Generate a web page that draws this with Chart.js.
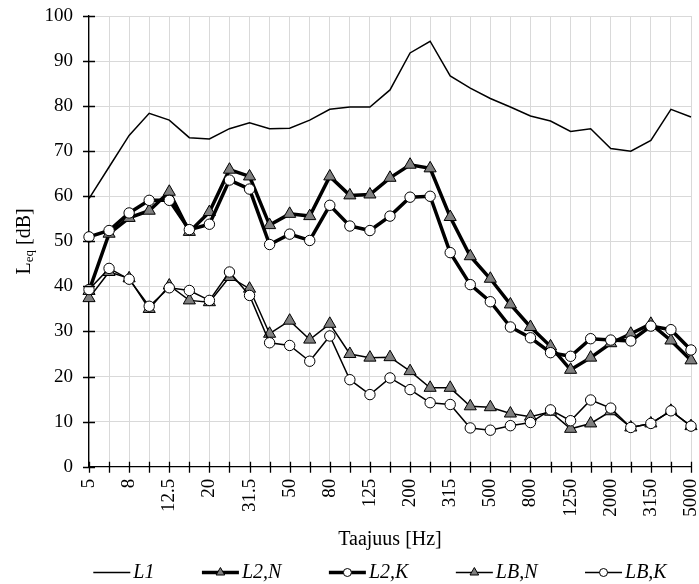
<!DOCTYPE html>
<html>
<head>
<meta charset="utf-8">
<script src="https://cdn.jsdelivr.net/npm/chart.js@4.4.1/dist/chart.umd.min.js"></script>
<style>
  html, body { margin: 0; padding: 0; background: #fff; }
  #wrap { width: 699px; height: 584px; position: relative; }
</style>
</head>
<body>
<div id="wrap"><canvas id="chart"></canvas></div>
<script>
// third-octave bands, Hz
const freqs = ['5', '6.3', '8', '10', '12.5', '16', '20', '25', '31.5', '40', '50', '63', '80', '100', '125',
  '160', '200', '250', '315', '400', '500', '630', '800', '1000', '1250', '1600', '2000', '2500', '3150', '4000', '5000'];

const yMin = 0;
const yMax = 100;
const yStep = 10;

const L1 = [59.5, 66.5, 73.5, 78.4, 76.9, 73.0, 72.7, 75.0, 76.3, 75.0, 75.1, 76.9, 79.3, 79.8, 79.8, 83.6,
  91.8, 94.4, 86.7, 84.0, 81.7, 79.8, 77.8, 76.7, 74.4, 75.0, 70.6, 70.0, 72.4, 79.3, 77.6];
const L2N = [39.0, 51.7, 55.2, 56.8, 61.0, 52.1, 56.5, 65.9, 64.4, 53.6, 56.1, 55.6, 64.4, 60.2, 60.4, 64.1,
  67.0, 66.2, 55.4, 46.7, 41.7, 36.0, 31.0, 26.7, 21.5, 24.2, 27.4, 29.5, 31.7, 28.0, 23.6];
const L2K = [51.0, 52.4, 56.3, 59.1, 59.1, 52.6, 53.8, 63.6, 61.6, 49.3, 51.6, 50.2, 58.0, 53.4, 52.4, 55.6,
  59.8, 60.0, 47.5, 40.4, 36.6, 31.0, 28.6, 25.3, 24.5, 28.4, 28.1, 27.9, 31.2, 30.4, 25.9];
const LBN = [37.4, 43.2, 41.8, 35.0, 40.2, 36.9, 36.5, 42.1, 39.5, 29.5, 32.4, 28.2, 31.7, 25.0, 24.2, 24.3,
  21.2, 17.5, 17.5, 13.4, 13.2, 11.8, 11.1, 12.2, 8.4, 9.6, 12.3, 8.7, 9.6, 12.4, 9.0];
const LBK = [39.3, 44.0, 41.6, 35.6, 39.7, 39.1, 36.9, 43.2, 38.0, 27.5, 26.9, 23.4, 29.0, 19.3, 16.0, 19.7,
  17.1, 14.2, 13.8, 8.6, 8.1, 9.1, 9.8, 12.6, 10.2, 14.8, 13.0, 8.7, 9.6, 12.4, 9.0];

const serif = "'Liberation Serif', 'Times New Roman', serif";
Chart.defaults.font.family = serif;
Chart.defaults.color = '#000';

function series(label, data, width, style, fill, order) {
  return {
    label: label,
    data: data,
    borderColor: '#000',
    borderWidth: width,
    tension: 0,
    pointStyle: style || 'circle',
    pointRadius: style ? (style === 'triangle' ? 7 : 5.2) : 0,
    pointBackgroundColor: fill,
    pointBorderColor: '#000',
    pointBorderWidth: 1,
    order: order
  };
}

// tick marks crossing the axes, subscripted y title, legend with line + marker
const extras = {
  id: 'extras',
  afterDraw(chart) {
    const ctx = chart.ctx;
    const xs = chart.scales.x, ys = chart.scales.y;
    const area = chart.chartArea;
    ctx.save();
    ctx.strokeStyle = '#000';
    ctx.lineWidth = 1.3;
    ctx.beginPath();
    ys.ticks.forEach((t, i) => {
      const y = Math.round(ys.getPixelForTick(i)) + 0.5;
      ctx.moveTo(area.left - 6, y);
      ctx.lineTo(area.left + 6, y);
    });
    xs.ticks.forEach((t, i) => {
      const x = Math.round(xs.getPixelForTick(i)) + 0.5;
      ctx.moveTo(x, area.bottom - 5);
      ctx.lineTo(x, area.bottom + 6);
    });
    ctx.stroke();

    // y title: L_eq [dB]
    ctx.translate(25, (area.top + area.bottom) / 2);
    ctx.rotate(-Math.PI / 2);
    ctx.textBaseline = 'middle';
    ctx.fillStyle = '#000';
    const big = '20px ' + serif, small = '13px ' + serif;
    ctx.font = big;
    const wL = ctx.measureText('L').width;
    const wRest = ctx.measureText(' [dB]').width;
    ctx.font = small;
    const wSub = ctx.measureText('eq').width;
    let x0 = -(wL + wSub + wRest) / 2;
    ctx.font = big;
    ctx.textAlign = 'left';
    ctx.fillText('L', x0, 0);
    ctx.font = small;
    ctx.fillText('eq', x0 + wL, 5);
    ctx.font = big;
    ctx.fillText(' [dB]', x0 + wL + wSub, 0);
    ctx.restore();

    // x title
    ctx.save();
    ctx.fillStyle = '#000';
    ctx.font = '20px ' + serif;
    ctx.textAlign = 'center';
    ctx.textBaseline = 'middle';
    ctx.fillText('Taajuus [Hz]', (area.left + area.right) / 2, 540);

    // legend
    ctx.font = 'italic 20px ' + serif;
    const lineLen = 37, gapText = 3, gapItem = 47.5;
    const items = chart.data.datasets;
    let total = 0;
    items.forEach((d, i) => {
      total += lineLen + gapText + ctx.measureText(d.label).width + (i < items.length - 1 ? gapItem : 0);
    });
    let x = (area.left + area.right) / 2 - 10 - total / 2;
    const y = 572.5;
    items.forEach(d => {
      ctx.strokeStyle = '#000';
      ctx.lineWidth = d.borderWidth;
      ctx.beginPath();
      ctx.moveTo(x, y);
      ctx.lineTo(x + lineLen, y);
      ctx.stroke();
      if (d.pointRadius > 0) {
        ctx.fillStyle = d.pointBackgroundColor;
        ctx.strokeStyle = '#000';
        ctx.lineWidth = d.pointBorderWidth;
        Chart.helpers.drawPoint(ctx, {
          pointStyle: d.pointStyle, radius: d.pointStyle === 'triangle' ? 5 : 4,
          borderWidth: d.pointBorderWidth, rotation: 0
        }, x + lineLen / 2, y);
      }
      ctx.fillStyle = '#000';
      ctx.textAlign = 'left';
      ctx.fillText(d.label, x + lineLen + gapText, y);
      x += lineLen + gapText + ctx.measureText(d.label).width + gapItem;
    });
    ctx.restore();
  }
};

new Chart(document.getElementById('chart'), {
  type: 'line',
  data: {
    labels: freqs,
    datasets: [
      series('L1', L1, 1.5, null, '#000', 5),
      series('L2,N', L2N, 3.5, 'triangle', '#7f7f7f', 4),
      series('L2,K', L2K, 3.5, 'circle', '#fff', 3),
      series('LB,N', LBN, 1.5, 'triangle', '#7f7f7f', 2),
      series('LB,K', LBK, 1.5, 'circle', '#fff', 1)
    ]
  },
  options: {
    responsive: true,
    maintainAspectRatio: false,
    animation: false,
    layout: { padding: { top: 16, right: 7, left: 0, bottom: 0 } },
    plugins: {
      legend: { display: false },
      tooltip: { enabled: false }
    },
    scales: {
      x: {
        offset: false,
        grid: { color: '#d9d9d9', lineWidth: 1, drawTicks: false },
        border: { color: '#000', width: 1.3 },
        ticks: {
          autoSkip: false,
          minRotation: 90,
          maxRotation: 90,
          padding: 12,
          font: { size: 19 },
          callback: function (v, i) { return i % 2 === 0 ? this.getLabelForValue(v) : ''; }
        },
        afterFit(scale) {
          scale.height = 117.3;
          scale.paddingLeft = 0;
          scale.paddingRight = 0;
        }
      },
      y: {
        min: yMin,
        max: yMax,
        grid: { color: '#d9d9d9', lineWidth: 1, drawTicks: false },
        border: { color: '#000', width: 1.3 },
        ticks: { stepSize: yStep, padding: 16, font: { size: 19 } },
        afterFit(scale) {
          scale.width = 89;
          scale.paddingTop = 0;
          scale.paddingBottom = 0;
        }
      }
    }
  },
  plugins: [extras]
});
</script>
</body>
</html>
